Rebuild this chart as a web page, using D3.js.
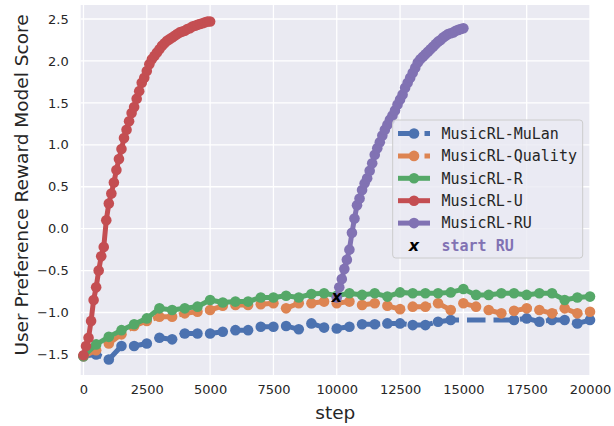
<!DOCTYPE html>
<meta charset="utf-8">
<script src="https://d3js.org/d3.v7.min.js"></script>
<style>
  body { margin: 0; background: white; }
  text { font-family: "DejaVu Sans", sans-serif; fill: #262626; }
  .legend text { font-family: "DejaVu Sans Mono", monospace; }
</style>
<div id="chart"></div>
<script>
  // series data (step, score)
  const stepsU = d3.range(0, 5001, 100);
  const valuesU = [-1.51, -1.40, -1.30, -1.10, -0.85, -0.70, -0.50, -0.33, -0.22, 0.10,
    0.30, 0.42, 0.55, 0.70, 0.83, 0.95, 1.08, 1.18, 1.28, 1.38,
    1.45, 1.55, 1.64, 1.74, 1.80, 1.88, 1.96, 2.02, 2.06, 2.10,
    2.14, 2.18, 2.21, 2.24, 2.26, 2.28, 2.30, 2.32, 2.34, 2.35,
    2.36, 2.38, 2.39, 2.41, 2.42, 2.43, 2.44, 2.45, 2.46, 2.47, 2.47];

  const stepsRU = d3.range(10000, 15001, 100);
  const valuesRU = [-0.82, -0.70, -0.60, -0.48, -0.37, -0.25, -0.05, 0.12, 0.28, 0.36,
    0.46, 0.54, 0.60, 0.69, 0.78, 0.88, 0.96, 1.03, 1.11, 1.18,
    1.24, 1.30, 1.35, 1.41, 1.48, 1.54, 1.60, 1.68, 1.74, 1.80,
    1.86, 1.92, 1.98, 2.02, 2.05, 2.08, 2.11, 2.14, 2.17, 2.20,
    2.23, 2.25, 2.28, 2.30, 2.32, 2.33, 2.34, 2.36, 2.37, 2.38, 2.39];

  const stepsR = d3.range(0, 20001, 500);
  const valuesR = [-1.52, -1.38, -1.29, -1.21, -1.14, -1.07, -0.95, -0.97, -0.95, -0.93,
    -0.85, -0.88, -0.87, -0.87, -0.82, -0.82, -0.80, -0.82, -0.78, -0.77,
    -0.80, -0.77, -0.79, -0.77, -0.81, -0.76, -0.77, -0.77, -0.77, -0.76,
    -0.72, -0.79, -0.79, -0.77, -0.77, -0.79, -0.77, -0.77, -0.85, -0.82, -0.81];

  const stepsQuality = d3.range(0, 20001, 500);
  const valuesQuality = [-1.52, -1.45, -1.37, -1.26, -1.16, -1.10, -1.05, -1.05, -1.01, -0.99,
    -0.97, -0.92, -0.91, -0.91, -0.90, -0.89, -0.95, -0.89, -0.89, -0.87,
    -0.89, -0.87, -0.91, -0.89, -0.92, -0.96, -0.93, -0.93, -0.89, -0.97,
    -0.89, -0.93, -0.97, -1.01, -0.98, -0.95, -0.97, -1.01, -0.95, -1.01, -0.99];

  const stepsMuLan = [0, 500, 1000, 1500, 2000, 2500, 3000, 3500, 4000, 4500,
    5000, 5500, 6000, 6500, 7000, 7500, 8000, 8500, 9000, 9500,
    10000, 10500, 11000, 11500, 12000, 12500, 13000, 13500, 14000, 14500,
    17000, 17500, 18000, 18500, 19000, 19500, 20000];
  const valuesMuLan = [-1.52, -1.50, -1.56, -1.40, -1.40, -1.37, -1.30, -1.32, -1.25, -1.25,
    -1.25, -1.23, -1.21, -1.21, -1.17, -1.17, -1.16, -1.20, -1.13, -1.18,
    -1.19, -1.17, -1.14, -1.14, -1.13, -1.13, -1.15, -1.15, -1.11, -1.09,
    -1.09, -1.07, -1.11, -1.09, -1.09, -1.13, -1.09];

  const startRU = [10000, -0.82];

  const xTicks = d3.range(0, 20001, 2500);
  const yTicks = d3.range(-1.5, 2.51, 0.5);

  const series = [
    { name: "MusicRL-MuLan", color: "#4C72B0", dashed: true, steps: stepsMuLan, values: valuesMuLan },
    { name: "MusicRL-Quality", color: "#DD8452", dashed: true, steps: stepsQuality, values: valuesQuality },
    { name: "MusicRL-R", color: "#55A868", dashed: false, steps: stepsR, values: valuesR },
    { name: "MusicRL-U", color: "#C44E52", dashed: false, steps: stepsU, values: valuesU },
    { name: "MusicRL-RU", color: "#8172B3", dashed: false, steps: stepsRU, values: valuesRU }
  ];

  const W = 614, H = 426;
  const plot = { left: 80.7, right: 590, top: 5, bottom: 375 };

  const svg = d3.select("#chart").append("svg")
    .attr("width", W).attr("height", H);

  const x = d3.scaleLinear().domain([-110, 20000]).range([plot.left, plot.right]);
  const y = d3.scaleLinear().domain([-1.745, 2.667]).range([plot.bottom, plot.top]);

  // background + grid
  svg.append("rect")
    .attr("x", plot.left).attr("y", plot.top)
    .attr("width", plot.right - plot.left).attr("height", plot.bottom - plot.top)
    .attr("fill", "#EAEAF2");

  const grid = svg.append("g").attr("stroke", "white").attr("stroke-width", 1.3);
  grid.selectAll(".gx").data(xTicks).join("line")
    .attr("x1", d => x(d)).attr("x2", d => x(d))
    .attr("y1", plot.top).attr("y2", plot.bottom);
  grid.selectAll(".gy").data(yTicks).join("line")
    .attr("y1", d => y(d)).attr("y2", d => y(d))
    .attr("x1", plot.left).attr("x2", plot.right);

  // axes (no ticks, no domain, seaborn style)
  const xAxis = svg.append("g")
    .attr("transform", `translate(0,${plot.bottom})`)
    .call(d3.axisBottom(x).tickValues(xTicks).tickSize(0).tickPadding(10).tickFormat(d3.format("d")));
  const yAxis = svg.append("g")
    .attr("transform", `translate(${plot.left},0)`)
    .call(d3.axisLeft(y).tickValues(yTicks).tickSize(0).tickPadding(12)
      .tickFormat(d => d3.format(".1f")(d).replace("-", "\u2212")));
  [xAxis, yAxis].forEach(a => {
    a.select(".domain").remove();
    a.selectAll("text").style("font-size", "13px").style("fill", "#262626")
      .style("font-family", "DejaVu Sans");
  });

  svg.append("text")
    .attr("x", (plot.left + plot.right) / 2).attr("y", 419)
    .attr("text-anchor", "middle").style("font-size", "18.5px")
    .text("step");
  svg.append("text")
    .attr("transform", `translate(27.5,185) rotate(-90)`)
    .attr("text-anchor", "middle").style("font-size", "18.5px")
    .text("User Preference Reward Model Score");

  // lines and markers
  const line = d3.line().x(d => x(d[0])).y(d => y(d[1]));
  const marks = svg.append("g");
  series.forEach(s => {
    const pts = s.steps.map((st, i) => [st, s.values[i]]);
    const g = marks.append("g");
    g.append("path")
      .attr("d", line(pts))
      .attr("fill", "none")
      .attr("stroke", s.color)
      .attr("stroke-width", 5)
      .attr("stroke-dasharray", s.dashed ? "18.5,8" : null);
    g.selectAll("circle").data(pts).join("circle")
      .attr("cx", d => x(d[0])).attr("cy", d => y(d[1]))
      .attr("r", 5.3).attr("fill", s.color);
  });

  svg.append("text")
    .attr("x", x(startRU[0])).attr("y", y(startRU[1]) + 5)
    .attr("text-anchor", "middle")
    .style("font-size", "16px").style("font-weight", "bold").style("font-style", "italic")
    .style("fill", "black")
    .text("x");

  // legend
  const legend = svg.append("g").attr("class", "legend");
  legend.append("rect")
    .attr("x", 392.7).attr("y", 120).attr("width", 190).attr("height", 138)
    .attr("rx", 3)
    .attr("fill", "#EAEAF2").attr("fill-opacity", 0.8)
    .attr("stroke", "#cccccc").attr("stroke-width", 1);

  const rowY = i => 133.5 + i * 22.4;
  series.forEach((s, i) => {
    const yy = rowY(i);
    legend.append("line")
      .attr("x1", 398).attr("x2", 430).attr("y1", yy).attr("y2", yy)
      .attr("stroke", s.color).attr("stroke-width", 5)
      .attr("stroke-dasharray", s.dashed ? "18.5,8" : null);
    legend.append("circle").attr("cx", 414).attr("cy", yy).attr("r", 5.3).attr("fill", s.color);
    legend.append("text")
      .attr("x", 441.5).attr("y", yy + 5.3)
      .style("font-size", "15px")
      .text(s.name);
  });
  const ry = rowY(5);
  legend.append("text")
    .attr("x", 414).attr("y", ry + 5).attr("text-anchor", "middle")
    .style("font-family", "DejaVu Sans")
    .style("font-size", "16px").style("font-weight", "bold").style("font-style", "italic")
    .style("fill", "black").text("x");
  legend.append("text")
    .attr("x", 441.5).attr("y", ry + 5.3)
    .style("font-size", "15px").style("font-weight", "bold")
    .style("fill", "#8172B3")
    .text("start RU");
</script>
